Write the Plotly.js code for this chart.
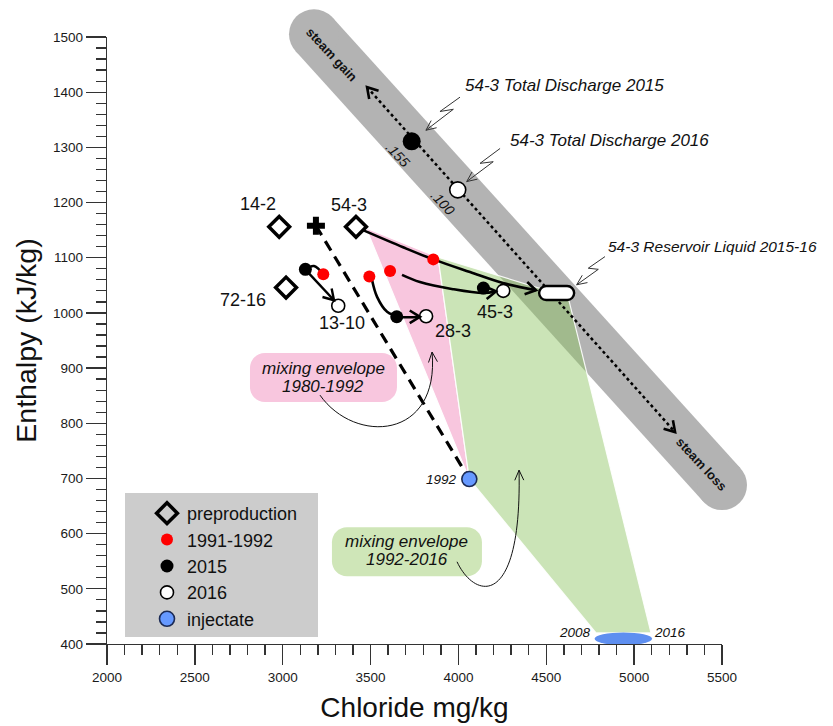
<!DOCTYPE html>
<html><head><meta charset="utf-8">
<script src="https://cdn.plot.ly/plotly-3.0.1.min.js"></script>
<style>html,body{margin:0;padding:0;background:#fff}</style>
</head><body><div id="chart" style="width:833px;height:726px"></div>
<script>
// ---------------- data (Chloride mg/kg, Enthalpy kJ/kg) ----------------
const preNames = ['14-2', '54-3', '72-16'];
const preCl = [2980, 3417, 3019];
const preH = [1156, 1156, 1046];
const crossCl = [3189];
const crossH = [1158];
const red9192Cl = [3231, 3493, 3611, 3857];
const red9192H = [1070, 1066, 1076, 1097];
const blk2015Cl = [3129, 3649, 4142];
const blk2015H = [1079, 993, 1045];
const wht2016Cl = [3316, 3816, 4255];
const wht2016H = [1013, 994, 1040];
const td2015Cl = [3734];
const td2015H = [1311];
const td2016Cl = [3996];
const td2016H = [1223];
const resCl = [4559];
const resH = [1036];
const inj1992Cl = [4062];
const inj1992H = [699];
const injRangeCl = [4775, 5102];
const injRangeH = [398, 421];

// steam gain / loss line
const bandCl = [3178, 5500];
const bandH = [1505, 688];
const steamCl = [3480, 5233];
const steamH = [1409, 784];

// mixing envelopes
const pinkCl = [3474, 3884, 4062];
const pinkH = [1154, 1101, 699];
const greenCl = [3884, 4459, 4624, 5096, 4783, 4062];
const greenH = [1101, 1045, 1029, 420, 420, 699];

// trend paths
const dashCl = [3189, 4062];
const dashH = [1158, 699];
const path543Cl = [3457, 3685, 3857, 4066, 4254, 4441];
const path543H = [1150, 1119, 1097, 1074, 1054, 1041];
const path453Cl = [3679, 3781, 3969, 4140, 4214];
const path453H = [1069, 1056, 1043, 1036, 1039];
const path283Cl = [3508, 3537, 3594, 3668, 3781];
const path283H = [1060, 1029, 1002, 993, 993];
const path1310Cl = [3128, 3292];
const path1310H = [1079, 1023];
const link1310Cl = [3128, 3178, 3231];
const link1310H = [1079, 1085, 1070];

// callouts
const co2015Cl = [4009, 3895, 3971, 3815];
const co2015H = [1391, 1365, 1369, 1331];
const co2016Cl = [4237, 4123, 4198, 4047];
const co2016H = [1298, 1271, 1274, 1238];
const coResCl = [4834, 4739, 4796, 4673];
const coResH = [1102, 1081, 1079, 1051];

// axis
const xRange = [2000, 5500];
const yRange = [400, 1500];

// ---------------- layout geometry ----------------
const W = 833, H = 726, ML = 107, MR = 5, MT = 5, MB = 82;
const axisRightPx = 722, axisTopPx = 37;
const plotW = W - ML - MR, plotH = H - MT - MB;
const xDomEnd = (axisRightPx - ML) / plotW;
const yDomEnd = (H - MB - axisTopPx) / plotH;
const x2Max = xRange[0] + (xRange[1] - xRange[0]) / xDomEnd;
const y2Max = yRange[0] + (yRange[1] - yRange[0]) / yDomEnd;
const kx = plotW / (x2Max - xRange[0]);
const ky = plotH / (y2Max - yRange[0]);
const px2paperX = p => (p - ML) / plotW;
const px2paperY = p => (H - MB - p) / plotH;

function head(xs, ys, len, spread, width, color) {
  const n = xs.length, tx = xs[n - 1], ty = ys[n - 1];
  const dx = (tx - xs[n - 2]) * kx, dy = (ty - ys[n - 2]) * ky;
  const a = Math.atan2(dy, dx);
  const p1 = [len * Math.cos(a + Math.PI - spread), len * Math.sin(a + Math.PI - spread)];
  const p2 = [len * Math.cos(a + Math.PI + spread), len * Math.sin(a + Math.PI + spread)];
  return {type: 'path', xref: 'x2', yref: 'y2', xsizemode: 'pixel', ysizemode: 'pixel',
    xanchor: tx, yanchor: ty, layer: 'above',
    path: `M${p1[0].toFixed(2)},${p1[1].toFixed(2)}L0,0L${p2[0].toFixed(2)},${p2[1].toFixed(2)}`,
    line: {color: color, width: width}};
}
function rrect(w, h, r) {
  const k = 0.5523 * r, x = w / 2, y = h / 2;
  return `M${-x + r},${-y} L${x - r},${-y} C${x - r + k},${-y} ${x},${-y + r - k} ${x},${-y + r} ` +
    `L${x},${y - r} C${x},${y - r + k} ${x - r + k},${y} ${x - r},${y} L${-x + r},${y} ` +
    `C${-x + r - k},${y} ${-x},${y - r + k} ${-x},${y - r} L${-x},${-y + r} ` +
    `C${-x},${-y + r - k} ${-x + r - k},${-y} ${-x + r},${-y} Z`;
}
function boxShape(cx, cy, w, h, r, fill) {
  return {type: 'path', xref: 'x2', yref: 'y2', xsizemode: 'pixel', ysizemode: 'pixel',
    xanchor: cx, yanchor: cy, path: rrect(w, h, r), fillcolor: fill, line: {width: 0}, layer: 'below'};
}

const base = {xaxis: 'x2', yaxis: 'y2', hoverinfo: 'skip', cliponaxis: false};
function line(xs, ys, opts) {
  return Object.assign({}, base, {x: xs, y: ys, mode: 'lines', showlegend: false}, opts);
}
const BLACK = '#000';
const traces = [
  {x: [null], y: [null], xaxis: 'x', yaxis: 'y', showlegend: false, hoverinfo: 'skip'},
  // steam band
  Object.assign({}, base, {x: bandCl, y: bandH, mode: 'lines+markers', showlegend: false,
    line: {color: '#b3b3b3', width: 50}, marker: {color: '#b3b3b3', size: 50}}),
  // mixing envelopes
  line(pinkCl.concat([pinkCl[0]]), pinkH.concat([pinkH[0]]),
    {fill: 'toself', fillcolor: '#f8c6de', line: {color: '#ffffff', width: 1.2}}),
  line(greenCl.concat([greenCl[0]]), greenH.concat([greenH[0]]),
    {fill: 'toself', fillcolor: 'rgba(140,196,95,0.45)', line: {color: 'rgba(255,255,255,0.9)', width: 1.2}}),
  // lines
  line(dashCl, dashH, {line: {color: BLACK, width: 3.2, dash: '11px,7px'}}),
  line(steamCl, steamH, {line: {color: BLACK, width: 2.5, dash: 'dot'}}),
  line(path543Cl, path543H, {line: {color: BLACK, width: 2.6, shape: 'spline'}}),
  line(path453Cl, path453H, {line: {color: BLACK, width: 2.6, shape: 'spline'}}),
  line(path283Cl, path283H, {line: {color: BLACK, width: 2.6, shape: 'spline'}}),
  line(path1310Cl, path1310H, {line: {color: BLACK, width: 2.4}}),
  line(link1310Cl, link1310H, {line: {color: BLACK, width: 2.4, shape: 'spline'}}),
  line(co2015Cl, co2015H, {line: {color: '#333', width: 1}}),
  line(co2016Cl, co2016H, {line: {color: '#333', width: 1}}),
  line(coResCl, coResH, {line: {color: '#333', width: 1}}),
  // markers (legend)
  Object.assign({}, base, {x: preCl, y: preH, mode: 'markers', name: 'preproduction', text: preNames,
    marker: {symbol: 'diamond-open', size: 16, color: BLACK, line: {width: 3.5, color: BLACK}}}),
  Object.assign({}, base, {x: red9192Cl, y: red9192H, mode: 'markers', name: '1991-1992',
    marker: {symbol: 'circle', size: 12, color: '#ff0000', line: {width: 0}}}),
  Object.assign({}, base, {x: blk2015Cl, y: blk2015H, mode: 'markers', name: '2015',
    marker: {symbol: 'circle', size: 13, color: BLACK, line: {width: 0}}}),
  Object.assign({}, base, {x: wht2016Cl, y: wht2016H, mode: 'markers', name: '2016',
    marker: {symbol: 'circle', size: 13, color: '#ffffff', line: {width: 1.6, color: BLACK}}}),
  Object.assign({}, base, {x: inj1992Cl, y: inj1992H, mode: 'markers', name: 'injectate',
    marker: {symbol: 'circle', size: 15, color: '#6699ff', line: {width: 1.6, color: '#1b2a55'}}}),
  Object.assign({}, base, {x: crossCl, y: crossH, mode: 'markers', showlegend: false,
    marker: {symbol: 'cross', size: 15, color: BLACK, line: {width: 0}}}),
  Object.assign({}, base, {x: td2015Cl, y: td2015H, mode: 'markers', showlegend: false,
    marker: {symbol: 'circle', size: 18, color: BLACK, line: {width: 0}}}),
  Object.assign({}, base, {x: td2016Cl, y: td2016H, mode: 'markers', showlegend: false,
    marker: {symbol: 'circle', size: 16, color: '#ffffff', line: {width: 1.6, color: BLACK}}})
];

const pinkCurve = {x: [3212, 3411, 3895, 3850], y: [851, 761, 770, 929]};
const greenCurve = {x: [3992, 4094, 4362, 4345], y: [549, 480, 462, 715]};
function bez(c) {
  return {type: 'path', xref: 'x2', yref: 'y2', layer: 'above',
    path: `M${c.x[0]},${c.y[0]} C${c.x[1]},${c.y[1]} ${c.x[2]},${c.y[2]} ${c.x[3]},${c.y[3]}`,
    line: {color: '#111', width: 1}};
}

const shapes = [
  // legend box
  {type: 'rect', xref: 'paper', yref: 'paper', x0: px2paperX(125), x1: px2paperX(318),
    y0: px2paperY(637), y1: px2paperY(493), fillcolor: '#cccccc', line: {width: 0}, layer: 'below'},
  boxShape(3232, 883, 147, 49, 15, '#f8c6de'),
  boxShape(3707, 567, 150, 49, 15, '#cfe6b8'),
  bez(pinkCurve), bez(greenCurve),
  head(pinkCurve.x.slice(2), pinkCurve.y.slice(2), 11, 0.42, 1, '#111'),
  head(greenCurve.x.slice(2), greenCurve.y.slice(2), 11, 0.42, 1, '#111'),
  // injectate range ellipse
  {type: 'circle', xref: 'x2', yref: 'y2', x0: injRangeCl[0], x1: injRangeCl[1], y0: injRangeH[0], y1: injRangeH[1],
    fillcolor: '#5e8ff0', line: {width: 0}, layer: 'above'},
  // reservoir liquid pill
  {type: 'path', xref: 'x2', yref: 'y2', xsizemode: 'pixel', ysizemode: 'pixel', xanchor: resCl[0], yanchor: resH[0],
    path: rrect(35, 14, 7), fillcolor: '#ffffff', line: {color: BLACK, width: 2.4}, layer: 'above'},
  // arrowheads
  head(path543Cl, path543H, 12, 0.55, 2.6, BLACK),
  head(path453Cl, path453H, 12, 0.55, 2.6, BLACK),
  head(path283Cl, path283H, 12, 0.55, 2.6, BLACK),
  head(path1310Cl, path1310H, 12, 0.55, 2.4, BLACK),
  head(steamCl, steamH, 12, 0.55, 2.6, BLACK),
  head(steamCl.slice().reverse(), steamH.slice().reverse(), 12, 0.55, 2.6, BLACK),
  head(co2015Cl, co2015H, 11, 0.42, 1, '#333'),
  head(co2016Cl, co2016H, 11, 0.42, 1, '#333'),
  head(coResCl, coResH, 11, 0.42, 1, '#333')
];

function t(x, y, text, size, extra) {
  return Object.assign({x: x, y: y, xref: 'x2', yref: 'y2', text: text, showarrow: false,
    font: {size: size, color: '#111'}}, extra || {});
}
const annotations = [
  t(2858, 1197, preNames[0], 18), t(3377, 1196, preNames[1], 18), t(2774, 1023, preNames[2], 18),
  t(3336, 981, '13-10', 18), t(3967, 967, '28-3', 18), t(4208, 1002, '45-3', 18),
  t(4026, 1413, '<i>54-3 Total Discharge 2015</i>', 17, {xanchor: 'left'}),
  t(4282, 1313, '<i>54-3 Total Discharge 2016</i>', 17, {xanchor: 'left'}),
  t(4840, 1121, '<i>54-3 Reservoir Liquid 2015-16</i>', 15.5, {xanchor: 'left'}),
  t(3656, 1286, '<i>.155</i>', 14, {textangle: 47}),
  t(3912, 1199, '<i>.100</i>', 14, {textangle: 47}),
  t(3280, 1469, '<b>steam gain</b>', 13, {textangle: 47}),
  t(5386, 726, '<b>steam loss</b>', 13, {textangle: 47}),
  t(3901, 699, '<i>1992</i>', 13.5), t(4663, 420, '<i>2008</i>', 13.5), t(5204, 420, '<i>2016</i>', 13.5),
  t(3232, 900, '<i>mixing envelope</i>', 17), t(3232, 866, '<i>1980-1992</i>', 17),
  t(3707, 585, '<i>mixing envelope</i>', 17), t(3707, 554, '<i>1992-2016</i>', 17)
];

const axisCommon = {showgrid: false, zeroline: false, showline: true, linecolor: '#333', linewidth: 1.3,
  ticks: 'outside', ticklen: 20, tickwidth: 1.3, tickcolor: '#333',
  tickfont: {size: 13.5, color: '#1a1a1a'}, fixedrange: true};
const layout = {
  width: W, height: H, margin: {l: ML, r: MR, t: MT, b: MB},
  paper_bgcolor: '#ffffff', plot_bgcolor: 'rgba(0,0,0,0)',
  font: {family: 'Liberation Sans, Arial, sans-serif', color: '#111'},
  xaxis: Object.assign({}, axisCommon, {domain: [0, xDomEnd], range: xRange, anchor: 'y', dtick: 500,
    minor: {dtick: 100, ticks: 'outside', ticklen: 10, tickwidth: 1.3, tickcolor: '#333', showgrid: false},
    title: {text: 'Chloride mg/kg', font: {size: 28, color: '#111'}, standoff: 14}}),
  yaxis: Object.assign({}, axisCommon, {domain: [0, yDomEnd], range: yRange, anchor: 'x', dtick: 100,
    minor: {dtick: 20, ticks: 'outside', ticklen: 10, tickwidth: 1.3, tickcolor: '#333', showgrid: false},
    title: {text: 'Enthalpy (kJ/kg)', font: {size: 28.5, color: '#111'}, standoff: 8}}),
  xaxis2: {domain: [0, 1], range: [xRange[0], x2Max], anchor: 'y2', visible: false, fixedrange: true},
  yaxis2: {domain: [0, 1], range: [yRange[0], y2Max], anchor: 'x2', visible: false, fixedrange: true},
  showlegend: true,
  legend: {x: px2paperX(147), y: px2paperY(495), xanchor: 'left', yanchor: 'top',
    bgcolor: 'rgba(0,0,0,0)', font: {size: 18, color: '#111'}, itemsizing: 'trace'},
  shapes: shapes, annotations: annotations
};
Plotly.newPlot('chart', traces, layout, {displayModeBar: false, staticPlot: true});
</script></body></html>
